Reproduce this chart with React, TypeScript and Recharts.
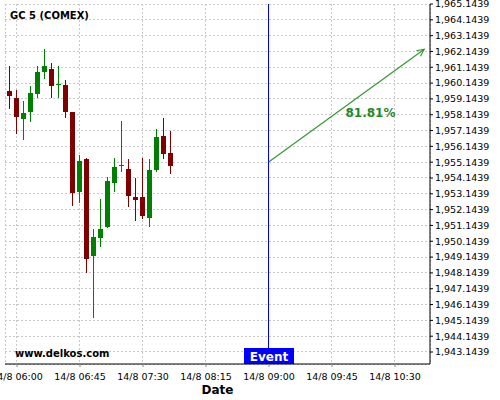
import React from 'react';
import {
  ComposedChart, Bar, XAxis, YAxis, CartesianGrid, ReferenceLine, ReferenceDot, Customized,
} from 'recharts';

// minutes after 14/8 06:00 for each 5-minute candle
const TIMES = [-5, 0, 5, 10, 15, 20, 25, 30, 35, 40, 45, 50, 55, 60, 65, 70, 75, 80, 85, 90, 95, 100, 105, 110];
const OPEN = [1959.663, 1959.182, 1957.855, 1958.335, 1959.473, 1960.864, 1961.035, 1960.048, 1960.023, 1958.297, 1953.277, 1955.345, 1949.232, 1950.370, 1951.065, 1953.847, 1954.953, 1954.713, 1952.942, 1952.942, 1951.634, 1954.669, 1956.799, 1955.724];
const HIGH = [1961.224, 1959.707, 1959.012, 1959.960, 1961.224, 1962.280, 1961.395, 1961.224, 1960.339, 1958.335, 1955.598, 1955.389, 1950.901, 1952.816, 1954.207, 1955.389, 1957.747, 1955.326, 1954.125, 1955.389, 1955.326, 1957.223, 1957.937, 1957.096];
const LOW = [1958.506, 1956.894, 1956.546, 1957.703, 1959.182, 1960.384, 1959.182, 1959.182, 1957.918, 1952.393, 1952.582, 1948.119, 1945.274, 1949.801, 1951.002, 1953.277, 1954.504, 1952.292, 1951.406, 1951.533, 1951.065, 1954.504, 1955.364, 1954.416];
const CLOSE = [1959.328, 1957.981, 1958.234, 1959.499, 1960.845, 1961.224, 1959.979, 1960.074, 1958.335, 1953.177, 1955.219, 1949.042, 1950.414, 1950.920, 1953.954, 1954.839, 1954.978, 1953.025, 1952.772, 1951.760, 1954.650, 1956.755, 1955.642, 1954.921];

const X_TICKS = [0, 45, 90, 135, 180, 225, 270];
const X_LABELS = ['14/8 06:00', '14/8 06:45', '14/8 07:30', '14/8 08:15', '14/8 09:00', '14/8 09:45', '14/8 10:30'];
const X_DOMAIN = [-8.571, 295];
const X_MINOR_STEP = 11.25;

const Y_TICKS = [1943.1439, 1944.1439, 1945.1439, 1946.1439, 1947.1439, 1948.1439, 1949.1439, 1950.1439, 1951.1439, 1952.1439, 1953.1439, 1954.1439, 1955.1439, 1956.1439, 1957.1439, 1958.1439, 1959.1439, 1960.1439, 1961.1439, 1962.1439, 1963.1439, 1964.1439, 1965.1439];
const Y_DOMAIN = [1942.385, 1965.1439];
const Y_MINOR_STEP = 0.2;

const EVENT_T = 180;
const EVENT_LABEL = 'Event';
const ARROW_START = { t: 180, v: 1955.174 };
const ARROW_END = { t: 290.9, v: 1962.28 };
const PCT_POS = { t: 252.5, v: 1957.981 };
const PCT_LABEL = '81.81%';
const TITLE = 'GC 5 (COMEX)';
const WATERMARK = 'www.delkos.com';
const X_TITLE = 'Date';

const GREEN = '#008000';
const RED = '#800000';
const ARROW_COLOR = '#2f962f';
const PCT_COLOR = '#1f8a1f';
const FONT = '"DejaVu Sans", sans-serif';

const data = TIMES.map((t, i) => ({ t, open: OPEN[i], high: HIGH[i], low: LOW[i], close: CLOSE[i] }));

const xMinor: number[] = [];
for (let t = 0; t <= X_DOMAIN[1]; t += X_MINOR_STEP) xMinor.push(t);
const yMinor: number[] = [];
for (let k = 0; Y_TICKS[0] - 3 * Y_MINOR_STEP + k * Y_MINOR_STEP <= Y_DOMAIN[1] + 1e-6; k++) {
  yMinor.push(+(Y_TICKS[0] - 3 * Y_MINOR_STEP + k * Y_MINOR_STEP).toFixed(4));
}

const fmtY = (v: number) => v.toLocaleString('en-US', { minimumFractionDigits: 4, maximumFractionDigits: 4 });
const fmtX = (v: number) => {
  const i = X_TICKS.indexOf(v);
  return i >= 0 ? X_LABELS[i] : '';
};

const Candle = (props: any) => {
  const { x, y, width, height, payload } = props;
  if (!payload) return null;
  const { open, close, high, low } = payload;
  const top = Math.min(y, y + height);
  const h = Math.abs(height);
  const range = high - low || 1;
  const px = (v: number) => top + ((high - v) / range) * h;
  const up = close >= open;
  const color = up ? GREEN : RED;
  const cx = x + width / 2;
  const bTop = px(Math.max(open, close));
  const bBot = px(Math.min(open, close));
  return (
    <g>
      <line x1={cx} x2={cx} y1={top} y2={top + h} stroke={color} strokeWidth={1} shapeRendering="crispEdges" />
      <rect x={x} y={bTop} width={width} height={Math.max(1, bBot - bTop)} fill={color} shapeRendering="crispEdges" />
    </g>
  );
};

const EventLineShape = (props: any) => {
  const { x1, y1, x2, y2 } = props;
  return <line x1={x1} y1={y1} x2={x2} y2={y2} stroke="#0000ff" strokeWidth={1} shapeRendering="crispEdges" />;
};

const ArrowShape = (props: any) => {
  const { x1, y1, x2, y2 } = props;
  const ang = Math.atan2(y2 - y1, x2 - x1);
  const len = 8;
  const spread = 0.45;
  const ax = x2 - len * Math.cos(ang - spread);
  const ay = y2 - len * Math.sin(ang - spread);
  const bx = x2 - len * Math.cos(ang + spread);
  const by = y2 - len * Math.sin(ang + spread);
  return (
    <g>
      <line x1={x1} y1={y1} x2={x2} y2={y2} stroke={ARROW_COLOR} strokeWidth={1.1} />
      <polyline points={`${ax},${ay} ${x2},${y2} ${bx},${by}`} fill="none" stroke={ARROW_COLOR} strokeWidth={1.1} />
    </g>
  );
};

const EventLabel = (props: any) => {
  const vb = props.viewBox || {};
  const cx = vb.x + (vb.width || 0) / 2;
  const bottom = vb.y + vb.height;
  return (
    <g>
      <rect x={cx - 25} y={bottom - 16} width={50} height={16} fill="#0000ff" shapeRendering="crispEdges" />
      <text x={cx} y={bottom - 3.5} textAnchor="middle" fill="#ffffff" fontWeight="bold" fontSize={12} fontFamily={FONT}>
        {EVENT_LABEL}
      </text>
    </g>
  );
};

const PctLabel = (props: any) => {
  const vb = props.viewBox || {};
  const cx = vb.x + (vb.width || 0) / 2;
  const cy = vb.y + (vb.height || 0) / 2;
  return (
    <text x={cx} y={cy} textAnchor="middle" fill={PCT_COLOR} fontWeight="bold" fontSize={12} fontFamily={FONT}>
      {PCT_LABEL}
    </text>
  );
};

const Overlay = () => (
  <g>
    <text x={10} y={19} fontWeight="bold" fontSize={10} fill="#000" fontFamily={FONT}>{TITLE}</text>
    <text x={15} y={357} fontWeight="bold" fontSize={10} fill="#000" fontFamily={FONT}>{WATERMARK}</text>
  </g>
);

export default function App() {
  return (
    <div style={{ position: 'absolute', left: 0, top: 0, width: 500, height: 400, background: '#fff', fontFamily: FONT }}>
      <ComposedChart width={500} height={400} data={data} margin={{ top: 4, right: 0, bottom: 0, left: 5 }}>
        <CartesianGrid stroke="#c8c8c8" strokeDasharray="2 2" shapeRendering="crispEdges" />
        <XAxis
          xAxisId="minor"
          dataKey="t"
          type="number"
          domain={X_DOMAIN}
          allowDataOverflow
          ticks={xMinor}
          tickFormatter={() => ''}
          axisLine={false}
          tickSize={2}
          tickLine={{ stroke: '#888' }}
          height={0}
          interval={0}
        />
        <XAxis
          dataKey="t"
          type="number"
          domain={X_DOMAIN}
          allowDataOverflow
          ticks={X_TICKS}
          tickFormatter={fmtX}
          interval={0}
          height={36}
          tickSize={3}
          tickMargin={6}
          axisLine={{ stroke: '#000' }}
          tickLine={{ stroke: '#888' }}
          tick={{ fill: '#000', fontSize: 9.5 }}
          label={{ value: X_TITLE, position: 'insideBottom', offset: 6, fontWeight: 'bold', fontSize: 12, fill: '#000' }}
        />
        <YAxis
          yAxisId="minor"
          orientation="right"
          type="number"
          domain={Y_DOMAIN}
          allowDataOverflow
          ticks={yMinor}
          tickFormatter={() => ''}
          width={0}
          mirror
          tickSize={2}
          axisLine={false}
          tickLine={{ stroke: '#888' }}
          interval={0}
        />
        <YAxis
          orientation="right"
          type="number"
          domain={Y_DOMAIN}
          allowDataOverflow
          ticks={Y_TICKS}
          tickFormatter={fmtY}
          interval={0}
          width={70}
          tickSize={3}
          tickMargin={2}
          axisLine={{ stroke: '#000' }}
          tickLine={{ stroke: '#000' }}
          tick={{ fill: '#000', fontSize: 9.5 }}
        />
        <Bar dataKey={(d: any) => [d.low, d.high]} barSize={5} shape={<Candle />} isAnimationActive={false} />
        <ReferenceLine x={EVENT_T} shape={EventLineShape} label={<EventLabel />} />
        <ReferenceLine
          segment={[{ x: ARROW_START.t, y: ARROW_START.v }, { x: ARROW_END.t, y: ARROW_END.v }]}
          shape={ArrowShape}
          ifOverflow="visible"
        />
        <ReferenceDot x={PCT_POS.t} y={PCT_POS.v} r={1} fill="none" stroke="none" label={<PctLabel />} />
        <Customized component={Overlay} />
      </ComposedChart>
    </div>
  );
}
